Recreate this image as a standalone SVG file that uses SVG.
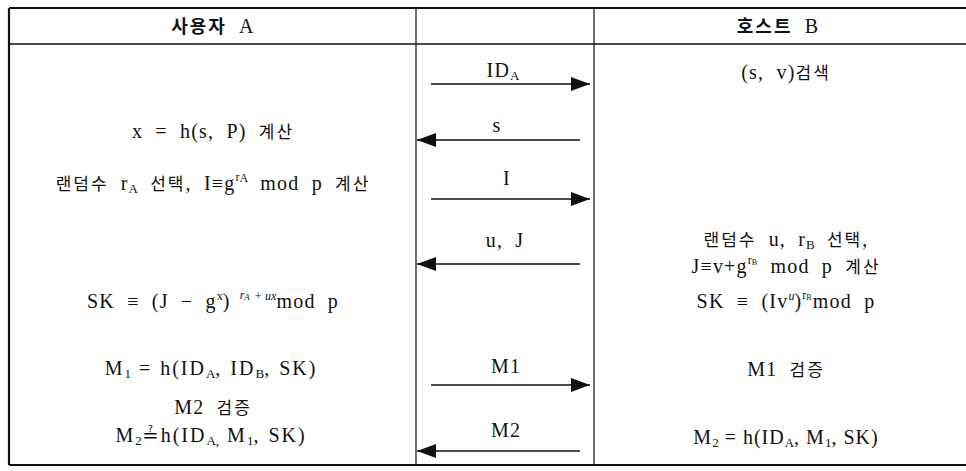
<svg xmlns="http://www.w3.org/2000/svg" width="966" height="471" viewBox="0 0 966 471">
  <style>
    .t { font-family: "Liberation Serif", "Noto Sans CJK KR", serif; font-size: 20px; fill: #111; text-anchor: middle; letter-spacing: 1.2px; word-spacing: 6px; }
    .k { font-family: "Noto Sans CJK KR", sans-serif; font-size: 17px; letter-spacing: 2px; }
    .h { font-weight: bold; font-size: 18px; }
    .wide { letter-spacing: 2px; word-spacing: 1px; }
    .tight { letter-spacing: 1px; word-spacing: 0; }
    .sub { font-size: 13px; letter-spacing: 0; }
    .sup { font-size: 12px; letter-spacing: 0; }
    .frame { stroke: #111; fill: none; }
    .arrow { stroke: #111; stroke-width: 1.3; fill: none; marker-end: url(#head); }
  </style>
  <defs>
    <marker id="head" viewBox="0 0 19 14" refX="19" refY="7" markerWidth="19" markerHeight="14" markerUnits="userSpaceOnUse" orient="auto">
      <path d="M0,0 L19,7 L0,14 Z" fill="#111"/>
    </marker>
  </defs>

  <rect width="966" height="471" fill="#fff"/>

  <!-- table frame -->
  <g id="table">
    <line class="frame" x1="9" y1="8" x2="966" y2="8" stroke-width="2"/>
    <line class="frame" x1="9" y1="44" x2="966" y2="44" stroke-width="1.5"/>
    <line class="frame" x1="9" y1="465" x2="966" y2="465" stroke-width="2"/>
    <line class="frame" x1="9" y1="8" x2="9" y2="465" stroke-width="2.2"/>
    <line class="frame" x1="416" y1="8" x2="416" y2="465" stroke-width="1.2"/>
    <line class="frame" x1="594" y1="8" x2="594" y2="465" stroke-width="1.2"/>
  </g>

  <!-- column headers -->
  <g id="header-a">
    <text class="t" x="213" y="33"><tspan class="k h">사용자</tspan>   A</text>
  </g>
  <g id="header-b">
    <text class="t" x="778" y="33"><tspan class="k h">호스트</tspan> B</text>
  </g>

  <!-- user A steps -->
  <g id="a-hash">
    <text class="t" x="213" y="138">x = h(s, P) <tspan class="k">계산</tspan></text>
  </g>
  <g id="a-random">
    <text class="t" x="213" y="190"><tspan class="k">랜덤수</tspan> r<tspan class="sub" dy="3">A</tspan><tspan dy="-3"> </tspan><tspan class="k">선택</tspan>, I≡g<tspan class="sup" dy="-9">r</tspan><tspan class="sup" font-size="8" dy="1">A</tspan><tspan dy="8"> mod p </tspan><tspan class="k">계산</tspan></text>
  </g>
  <g id="a-key">
    <text class="t" x="213" y="308">SK ≡ (J − g<tspan class="sup" dy="-8">x</tspan><tspan dy="8">)</tspan><tspan class="sup" font-style="italic" dy="-9"> r</tspan><tspan font-size="9" font-style="italic" dy="1">A</tspan><tspan class="sup" font-style="italic" dy="0" word-spacing="0"> + ux</tspan><tspan dy="8">mod p</tspan></text>
  </g>
  <g id="a-m1">
    <text class="t wide" x="211" y="375">M<tspan class="sub" dy="3">1</tspan><tspan dy="-3"> = h(ID</tspan><tspan class="sub" dy="3">A</tspan><tspan dy="-3">, ID</tspan><tspan class="sub" dy="3">B</tspan><tspan dy="-3">, SK)</tspan></text>
  </g>
  <g id="a-m2">
    <text class="t" x="213" y="414">M2 <tspan class="k">검증</tspan></text>
    <text class="t wide" x="211" y="442">M<tspan class="sub" dy="3">2</tspan><tspan dy="-3">≟h(ID</tspan><tspan class="sub" dy="3">A,</tspan><tspan dy="-3"> M</tspan><tspan class="sub" dy="3">1</tspan><tspan dy="-3">, SK)</tspan></text>
  </g>

  <!-- host B steps -->
  <g id="b-lookup">
    <text class="t" x="786" y="79">(s, v)<tspan class="k">검색</tspan></text>
  </g>
  <g id="b-random">
    <text class="t" x="786" y="246"><tspan class="k">랜덤수</tspan> u, r<tspan class="sub" dy="3">B</tspan><tspan dy="-3"> </tspan><tspan class="k">선택</tspan>,</text>
    <text class="t" x="786" y="273">J≡v+g<tspan class="sup" dy="-9">r</tspan><tspan font-size="8" dy="1">B</tspan><tspan dy="8"> mod p </tspan><tspan class="k">계산</tspan></text>
  </g>
  <g id="b-key">
    <text class="t" x="786" y="308">SK ≡ (Iv<tspan class="sup" font-style="italic" dy="-8">u</tspan><tspan dy="8">)</tspan><tspan class="sup" dy="-9">r</tspan><tspan font-size="8" dy="1">B</tspan><tspan dy="8">mod p</tspan></text>
  </g>
  <g id="b-m1">
    <text class="t" x="786" y="376">M1 <tspan class="k">검증</tspan></text>
  </g>
  <g id="b-m2">
    <text class="t tight" x="786" y="444">M<tspan class="sub" dy="3">2</tspan><tspan dy="-3"> = h(ID</tspan><tspan class="sub" dy="3">A</tspan><tspan dy="-3">, M</tspan><tspan class="sub" dy="3">1</tspan><tspan dy="-3">, SK)</tspan></text>
  </g>

  <!-- messages between A and B -->
  <g id="connectors">
    <line class="arrow" x1="431" y1="84" x2="590" y2="84"/>
    <line class="arrow" x1="580" y1="140" x2="417" y2="140"/>
    <line class="arrow" x1="431" y1="199" x2="590" y2="199"/>
    <line class="arrow" x1="580" y1="264" x2="417" y2="264"/>
    <line class="arrow" x1="431" y1="385" x2="590" y2="385"/>
    <line class="arrow" x1="580" y1="451" x2="417" y2="451"/>
  </g>
  <g id="labels">
    <text class="t" x="503" y="77">ID<tspan class="sub" dy="3">A</tspan></text>
    <text class="t" x="497" y="132">s</text>
    <text class="t" x="507" y="185">I</text>
    <text class="t" x="505" y="247">u, J</text>
    <text class="t" x="506" y="373">M1</text>
    <text class="t" x="506" y="437">M2</text>
  </g>
</svg>
